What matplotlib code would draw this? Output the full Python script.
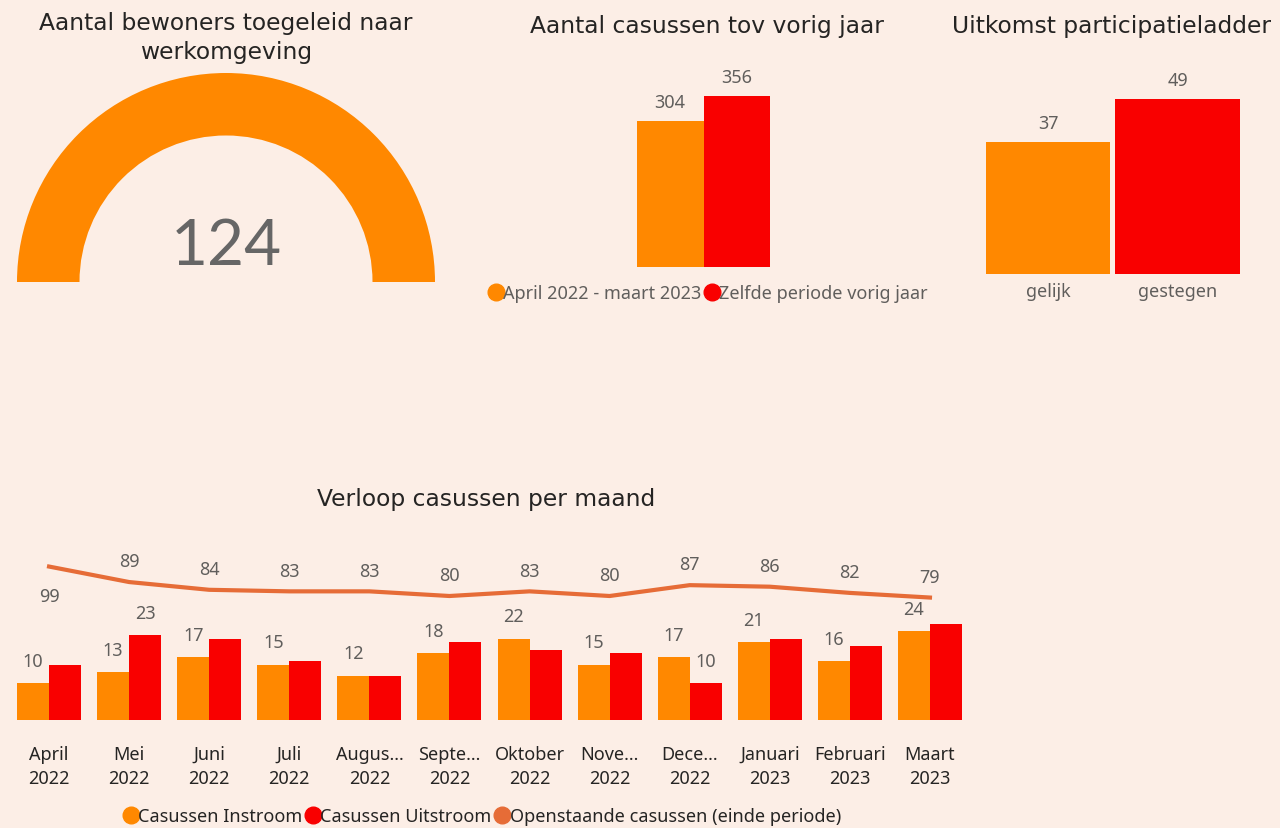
import numpy as np
import matplotlib
matplotlib.use("Agg")
import matplotlib.pyplot as plt
from matplotlib.patches import Wedge
from matplotlib.lines import Line2D

# Data
gauge_value = 124
gauge_max = 124

jaar_labels = ["April 2022 - maart 2023", "Zelfde periode vorig jaar"]
jaar_values = [304, 356]

ladder_cats = ["gelijk", "gestegen"]
ladder_values = [37, 49]

maanden = ["April\n2022", "Mei\n2022", "Juni\n2022", "Juli\n2022", "Augus...\n2022",
           "Septe...\n2022", "Oktober\n2022", "Nove...\n2022", "Dece...\n2022",
           "Januari\n2023", "Februari\n2023", "Maart\n2023"]
instroom = [10, 13, 17, 15, 12, 18, 22, 15, 17, 21, 16, 24]
uitstroom = [15, 23, 22, 16, 12, 21, 19, 18, 10, 22, 20, 26]
openstaand = [99, 89, 84, 83, 83, 80, 83, 80, 87, 86, 82, 79]
uit_label_idx = [1, 8]   # only these outflow labels are visible

# Style
BG = "#FCEEE6"
ORANGE = "#FF8800"
RED = "#F90000"
LINE = "#E66C37"
DARK = "#252423"
GRAY = "#605E5C"
TXT = "Noto Sans"
TITLE = "DejaVu Sans"
TSIZE = 16.8

W, H = 1280, 829
fig = plt.figure(figsize=(W / 100, H / 100), dpi=100)
fig.patch.set_facecolor(BG)


def px_axes(x0, y0, x1, y1):
    # pixel box (top-left origin) -> axes
    ax = fig.add_axes([x0 / W, 1 - y1 / H, (x1 - x0) / W, (y1 - y0) / H])
    ax.set_facecolor("none")
    for s in ax.spines.values():
        s.set_visible(False)
    return ax


def fy(y):
    return 1 - y / H


# Gauge
fig.text(226 / W, fy(38), "Aantal bewoners toegeleid naar\nwerkomgeving", ha="center", va="center",
         fontsize=TSIZE, family=TITLE, color=DARK, linespacing=1.3)
axg = px_axes(6, 64, 446, 290)
axg.set_xlim(-220, 220)
axg.set_ylim(-7, 219)
axg.set_aspect("equal")
axg.axis("off")
ang = 180 * gauge_value / gauge_max
axg.add_patch(Wedge((0, 0), 209, 180 - ang, 180, width=62.5, color=ORANGE, lw=0))
axg.text(0, 36, str(gauge_value), ha="center", va="center", fontsize=46,
         family="Lato", color="#666666")

# Aantal casussen tov vorig jaar
fig.text(707 / W, fy(26), "Aantal casussen tov vorig jaar", ha="center", va="center",
         fontsize=TSIZE, family=TITLE, color=DARK)
axm = px_axes(603.5, 60, 803.5, 268)
xm = np.array([-0.5, 0.5])
axm.bar(xm, jaar_values, width=1.0, color=[ORANGE, RED], linewidth=0)
axm.set_xlim(-1.5, 1.5)
axm.set_ylim(0, 208 / 0.48)
axm.set_xticks([])
axm.set_yticks([])
for x, v in zip(xm, jaar_values):
    axm.annotate(str(v), (x, v), xytext=(0, 13.5), textcoords="offset points",
                 ha="center", va="center", fontsize=13, family=TXT, color=GRAY)
hm = [Line2D([], [], marker="o", ls="", color=c, markersize=12) for c in (ORANGE, RED)]
fig.legend(hm, jaar_labels, loc="center", bbox_to_anchor=(709 / W, fy(294)), ncol=2, frameon=False,
           handlelength=0.6, handletextpad=0.1, columnspacing=0.3,
           prop={"family": TXT, "size": 13}, labelcolor=GRAY)

# Uitkomst participatieladder
fig.text(952 / W, fy(26), "Uitkomst participatieladder", ha="left", va="center",
         fontsize=TSIZE, family=TITLE, color=DARK)
axr = px_axes(983.25, 60, 1242.25, 275)
xr = np.arange(len(ladder_cats))
axr.bar(xr, ladder_values, width=0.958, color=[ORANGE, RED], linewidth=0)
axr.set_xlim(-0.5, 1.5)
axr.set_ylim(0, 215 / 3.57)
axr.set_yticks([])
axr.set_xticks(xr)
axr.set_xticklabels(ladder_cats, family=TXT, fontsize=13, color=GRAY)
axr.tick_params(axis="x", length=0, pad=6)
for x, v in zip(xr, ladder_values):
    axr.annotate(str(v), (x, v), xytext=(0, 13.5), textcoords="offset points",
                 ha="center", va="center", fontsize=13, family=TXT, color=GRAY)

# Verloop casussen per maand
fig.text(486 / W, fy(500), "Verloop casussen per maand", ha="center", va="center",
         fontsize=TSIZE, family=TITLE, color=DARK)
axb = px_axes(9, 545, 970, 721)
x = np.arange(len(maanden))
bw = 0.4
axb.bar(x - bw / 2, instroom, width=bw, color=ORANGE, linewidth=0)
axb.bar(x + bw / 2, uitstroom, width=bw, color=RED, linewidth=0)
axb.set_xlim(-0.5, len(maanden) - 0.5)
axb.set_ylim(0, 176 / 3.7)
axb.set_yticks([])
axb.set_xticks(x)
axb.set_xticklabels(maanden, family=TXT, fontsize=13, color=DARK, linespacing=1.45)
axb.tick_params(axis="x", length=0, pad=18)
for i, v in enumerate(instroom):
    axb.annotate(str(v), (i - bw / 2, v), xytext=(0, 16), textcoords="offset points",
                 ha="center", va="center", fontsize=13, family=TXT, color=GRAY)
for i in uit_label_idx:
    axb.annotate(str(uitstroom[i]), (i + bw / 2, uitstroom[i]), xytext=(0, 16), textcoords="offset points",
                 ha="center", va="center", fontsize=13, family=TXT, color=GRAY)

axl = axb.twinx()
for s in axl.spines.values():
    s.set_visible(False)
axl.plot(x, openstaand, color=LINE, lw=3)
axl.set_ylim(0, 176 / 1.55)
axl.set_yticks([])
for i, v in enumerate(openstaand):
    off = -21 if i == 0 else 15
    axl.annotate(str(v), (i, v), xytext=(0, off), textcoords="offset points",
                 ha="center", va="center", fontsize=13, family=TXT, color=GRAY)

hb = [Line2D([], [], marker="o", ls="", color=c, markersize=12) for c in (ORANGE, RED, LINE)]
fig.legend(hb, ["Casussen Instroom", "Casussen Uitstroom", "Openstaande casussen (einde periode)"],
           loc="center", bbox_to_anchor=(483 / W, fy(817)), ncol=3, frameon=False,
           handlelength=0.6, handletextpad=0.1, columnspacing=0.3,
           prop={"family": TXT, "size": 13}, labelcolor=DARK)

fig.savefig("out.png", dpi=100, facecolor=BG)
